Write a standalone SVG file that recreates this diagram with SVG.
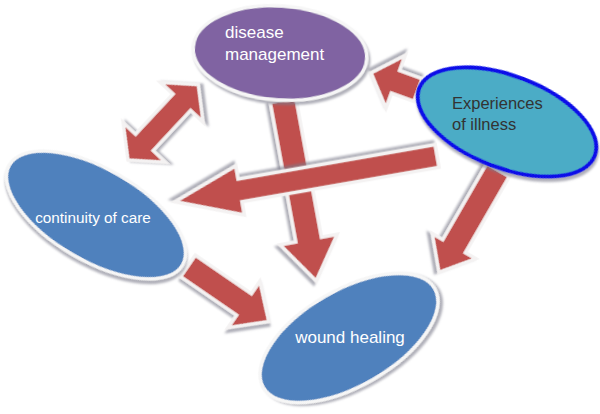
<svg xmlns="http://www.w3.org/2000/svg" width="600" height="414" viewBox="0 0 600 414">
<defs>
<filter id="sh" x="-20%" y="-20%" width="140%" height="140%">
<feDropShadow dx="2" dy="3" stdDeviation="1.2" flood-color="#7a7a8a" flood-opacity="0.6"/>
</filter>
<style>
.arr{fill:#C0504D;stroke:#F4F2F2;stroke-width:3.5;stroke-linejoin:miter;filter:url(#sh)}
.node{stroke:#F6F6F6;stroke-width:3.5;filter:url(#sh)}
.t{font-family:"Liberation Sans",Arial,sans-serif;font-size:17px;fill:#FFFFFF}
</style>
</defs>
<rect width="600" height="414" fill="#FFFFFF"/>
<g id="connectors">
<path class="arr" transform="translate(128,160) rotate(-47)" d="M0,0 L24,-29 L24,-12 L79,-12 L79,-29 L103,0 L79,29 L79,12 L24,12 L24,29 Z"/>
<path class="arr" transform="translate(418,90) rotate(-160)" d="M0,-12 L24,-12 L24,-28 L50,0 L24,28 L24,12 L0,12 Z"/>
<path class="arr" transform="translate(283,100) rotate(79.6)" d="M0,-13 L142,-13 L142,-29 L184,0 L142,29 L142,13 L0,13 Z"/>
<path class="arr" transform="translate(437,156) rotate(170.1)" d="M0,-11.5 L200,-11.5 L200,-25 L266,0 L200,25 L200,11.5 L0,11.5 Z"/>
<path class="arr" transform="translate(498,170) rotate(120)" d="M0,-13 L88,-13 L88,-25 L118,0 L88,25 L88,13 L0,13 Z"/>
<path class="arr" transform="translate(188,266) rotate(34.5)" d="M0,-13 L68,-13 L68,-28 L98,0 L68,28 L68,13 L0,13 Z"/>
</g>
<g id="disease-management">
<ellipse class="node" cx="280" cy="53" rx="87" ry="47" transform="rotate(4 280 53)" fill="#8064A2"/>
<text class="t" x="225" y="38">disease</text>
<text class="t" x="225" y="60">management</text>
</g>
<g id="experiences-of-illness">
<ellipse cx="507" cy="122" rx="94" ry="46" transform="rotate(21 507 122)" fill="#4BACC6" stroke="#0A10E8" stroke-width="4" filter="url(#sh)"/>
<text class="t" x="452" y="109" style="fill:#333333;font-size:16.5px">Experiences</text>
<text class="t" x="452" y="130" style="fill:#333333;font-size:16.5px">of illness</text>
</g>
<g id="continuity-of-care">
<ellipse class="node" cx="96" cy="215" rx="100" ry="46" transform="rotate(30 96 215)" fill="#4F81BD"/>
<text class="t" x="93" y="223" text-anchor="middle" style="font-size:15.3px">continuity of care</text>
</g>
<g id="wound-healing">
<ellipse class="node" cx="349" cy="338" rx="99" ry="48" transform="rotate(-30 349 338)" fill="#4F81BD"/>
<text class="t" x="350" y="343" text-anchor="middle">wound healing</text>
</g>
</svg>
